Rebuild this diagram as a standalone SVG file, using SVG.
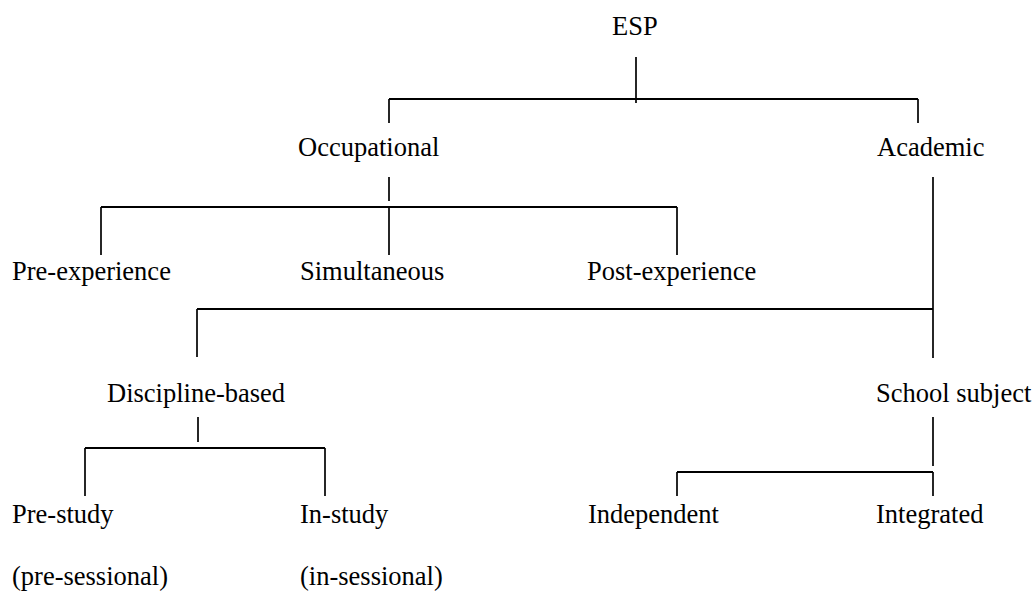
<svg xmlns="http://www.w3.org/2000/svg" width="1035" height="592" viewBox="0 0 1035 592">
  <style>
    text { font-family: "Liberation Serif", "Times New Roman", serif; font-size: 26.5px; fill: #000; }
    .h { stroke: #000; stroke-width: 2; fill: none; }
    .v { stroke: #000; stroke-width: 1.7; fill: none; }
  </style>
  <rect width="1035" height="592" fill="#fff"/>

  <!-- tree connectors: stems, bracket bars and drops -->
  <g id="connectors">
    <!-- ESP -> Occupational / Academic -->
    <line class="v" x1="636" y1="57" x2="636" y2="103"/>
    <line class="h" x1="389" y1="99" x2="918" y2="99"/>
    <line class="v" x1="389" y1="99" x2="389" y2="123"/>
    <line class="v" x1="918" y1="99" x2="918" y2="123"/>

    <!-- Occupational -> three experience types -->
    <line class="v" x1="389" y1="177" x2="389" y2="201"/>
    <line class="h" x1="101" y1="207" x2="677" y2="207"/>
    <line class="v" x1="101" y1="207" x2="101" y2="255"/>
    <line class="v" x1="389" y1="207" x2="389" y2="255"/>
    <line class="v" x1="677" y1="207" x2="677" y2="255"/>

    <!-- Academic -> Discipline-based / School subject -->
    <line class="v" x1="933" y1="177" x2="933" y2="358"/>
    <line class="h" x1="197" y1="309" x2="933" y2="309"/>
    <line class="v" x1="197" y1="309" x2="197" y2="357"/>

    <!-- Discipline-based -> Pre-study / In-study -->
    <line class="v" x1="198" y1="417" x2="198" y2="442"/>
    <line class="h" x1="85" y1="448" x2="325" y2="448"/>
    <line class="v" x1="85" y1="448" x2="85" y2="496"/>
    <line class="v" x1="325" y1="448" x2="325" y2="496"/>

    <!-- School subject -> Independent / Integrated -->
    <line class="v" x1="933" y1="417" x2="933" y2="466"/>
    <line class="h" x1="677" y1="472" x2="933" y2="472"/>
    <line class="v" x1="677" y1="472" x2="677" y2="496"/>
    <line class="v" x1="933" y1="472" x2="933" y2="496"/>
  </g>

  <g id="esp"><text x="612" y="35">ESP</text></g>
  <g id="occupational"><text x="298" y="156">Occupational</text></g>
  <g id="academic"><text x="877" y="156">Academic</text></g>

  <g id="pre-experience"><text x="12" y="280">Pre-experience</text></g>
  <g id="simultaneous"><text x="300" y="280">Simultaneous</text></g>
  <g id="post-experience"><text x="587" y="280">Post-experience</text></g>

  <g id="discipline-based"><text x="107" y="402">Discipline-based</text></g>
  <g id="school-subject"><text x="876" y="402">School subject</text></g>

  <g id="pre-study">
    <text x="12" y="523">Pre-study</text>
    <text x="12" y="585">(pre-sessional)</text>
  </g>
  <g id="in-study">
    <text x="300" y="523">In-study</text>
    <text x="300" y="585">(in-sessional)</text>
  </g>
  <g id="independent"><text x="588" y="523">Independent</text></g>
  <g id="integrated"><text x="876" y="523">Integrated</text></g>
</svg>
